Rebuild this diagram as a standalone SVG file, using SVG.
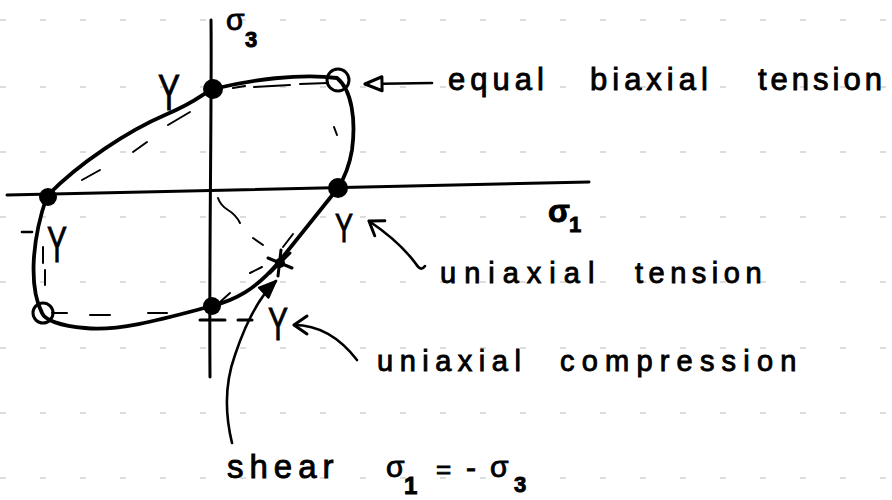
<svg xmlns="http://www.w3.org/2000/svg" width="892" height="500" viewBox="0 0 892 500">
<style>
.ink{fill:none;stroke:#000;stroke-linecap:round;stroke-linejoin:round}
.main{stroke-width:3.8}
.axis{stroke-width:3}
.thin{stroke-width:2.6}
.dash{stroke-width:2}
.rule{fill:none;stroke:#666;stroke-width:1.2;stroke-dasharray:6 34;opacity:0.45}
.dot{fill:#000}
.open{fill:none;stroke:#000;stroke-width:3}
.hw{font-family:"Liberation Sans",Arial,sans-serif;fill:#000;stroke:#000;stroke-width:0.9}
</style>
<defs>
<marker id="chev" viewBox="-16 -12 20 24" refX="0" refY="0" markerWidth="20" markerHeight="24" markerUnits="userSpaceOnUse" orient="auto">
<path d="M-13,-9 L0,0 L-13,9" fill="none" stroke="#000" stroke-width="3" stroke-linecap="round" stroke-linejoin="round"/>
</marker>
<marker id="tri" viewBox="-20 -10 22 20" refX="0" refY="0" markerWidth="22" markerHeight="20" markerUnits="userSpaceOnUse" orient="auto">
<path d="M-17,-7 L0,0 L-17,7 Z" fill="#000" stroke="#000" stroke-width="2" stroke-linejoin="round"/>
</marker>
<marker id="openTri" viewBox="-22 -10 24 20" refX="0" refY="0" markerWidth="24" markerHeight="20" markerUnits="userSpaceOnUse" orient="auto">
<path d="M-17,-7 L0,0 L-17,7 Z" fill="#fff" stroke="#000" stroke-width="3" stroke-linejoin="round"/>
</marker>
</defs>
<rect width="892" height="500" fill="#fff"/>

<g id="ruled-lines">
<path class="rule" d="M0,20 H892"/>
<path class="rule" d="M0,87 H892"/>
<path class="rule" d="M0,152 H892"/>
<path class="rule" d="M0,217 H892"/>
<path class="rule" d="M0,282 H892"/>
<path class="rule" d="M0,348 H892"/>
<path class="rule" d="M0,413 H892"/>
<path class="rule" d="M0,478 H892"/>
</g>

<g id="axes">
<path class="ink axis" d="M211,20 C212,90 209,250 210,377"/>
<path class="ink axis" d="M7,195 L589,182"/>
<text class="hw" x="226" y="30" font-size="30">σ</text>
<text class="hw" x="245" y="47" font-size="22" font-weight="bold">3</text>
<text class="hw" x="548" y="222" font-size="32" font-weight="bold">σ<tspan x="569" y="232" font-size="22">1</tspan></text>
</g>

<g id="yield-locus">
<path class="ink main" d="M47,196 C80,162 130,130 165,115 S200,95 213,89 C250,80 300,73 337,78 C352,90 356,120 352,150 C349,168 343,180 338,188 L278,263 C255,290 235,300 212,306 C170,317 120,332 85,328 C60,326 45,320 42,313 C30,290 30,245 47,196 Z"/>
<g class="ink dash">
<path d="M82,180 L100,170"/>
<path d="M133,152 L147,142"/>
<path d="M168,125 L190,112"/>
<path d="M233,88 L245,86"/>
<path d="M254,87 L290,85"/>
<path d="M300,84 L328,83"/>
<path d="M334,127 L337,135"/>
<path d="M218,198 C220,204 223,207 228,210 C233,213 237,217 240,223"/>
<path d="M253,238 L263,245"/>
<path d="M283,247 L293,234"/>
<path d="M250,273 L262,267"/>
<path d="M220,302 L230,293"/>
<path d="M90,315 L110,315"/>
<path d="M148,313 L167,313"/>
<path d="M52,313 L67,313"/>
<path d="M43,247 L43,263"/>
<path d="M45,270 L45,285"/>
</g>
<path class="ink thin" d="M22,232 L32,232"/>
<path class="ink axis" d="M200,320 L225,320 M238,320 L252,320"/>
</g>

<g id="pt-top"><circle class="dot" cx="213" cy="89" r="10"/></g>
<g id="pt-equal-biaxial"><circle class="open" cx="338" cy="80" r="11"/></g>
<g id="pt-uniaxial-tension"><circle class="dot" cx="338" cy="188" r="10"/></g>
<g id="pt-left"><circle class="dot" cx="48" cy="197" r="9"/></g>
<g id="pt-bottom-left"><circle class="open" cx="43" cy="313" r="10"/></g>
<g id="pt-bottom"><circle class="dot" cx="212" cy="306" r="9"/></g>
<g id="pt-shear">
<circle class="dot" cx="280" cy="263" r="5"/>
<path class="ink axis" d="M268,258 L292,268 M281,250 L278,276 M270,273 L290,253"/>
</g>

<g id="y-labels">
<text class="hw" x="158" y="110" font-size="50" textLength="22" lengthAdjust="spacingAndGlyphs">Y</text>
<text class="hw" x="47" y="262" font-size="50" textLength="20" lengthAdjust="spacingAndGlyphs">Y</text>
<text class="hw" x="335" y="242" font-size="40" textLength="18" lengthAdjust="spacingAndGlyphs">Y</text>
<text class="hw" x="268" y="340" font-size="46" textLength="20" lengthAdjust="spacingAndGlyphs">Y</text>
</g>

<g id="connectors">
<path class="ink thin" d="M432,83 L365,84" marker-end="url(#openTri)"/>
<path class="ink thin" d="M425,266 Q421,272 416,264 Q400,242 369,221" marker-end="url(#chev)"/>
<path class="ink thin" d="M357,360 C340,338 320,325 294,325" marker-end="url(#chev)"/>
<path class="ink thin" d="M232,443 C224,410 226,380 235,355 C245,325 258,298 276,281" marker-end="url(#tri)"/>
</g>

<g id="labels">
<text class="hw" y="90" font-size="31"><tspan x="448" letter-spacing="5">equal</tspan> <tspan x="590" letter-spacing="5">biaxial</tspan> <tspan x="758" letter-spacing="4">tension</tspan></text>
<text class="hw" y="283" font-size="29"><tspan x="440" letter-spacing="8">uniaxial</tspan> <tspan x="635" letter-spacing="5.5">tension</tspan></text>
<text class="hw" y="371" font-size="29"><tspan x="377" letter-spacing="6.5">uniaxial</tspan> <tspan x="560" letter-spacing="7.2">compression</tspan></text>
<text class="hw" x="227" y="478" font-size="33" letter-spacing="6">shear</text>
<text class="hw" y="477" font-size="30"><tspan x="386">σ</tspan><tspan x="404" y="494" font-size="24" font-weight="bold">1</tspan><tspan x="436" y="478" font-size="26">=</tspan><tspan x="466" font-size="30">-</tspan><tspan x="490" y="477">σ</tspan><tspan x="514" y="492" font-size="22" font-weight="bold">3</tspan></text>
</g>
</svg>
